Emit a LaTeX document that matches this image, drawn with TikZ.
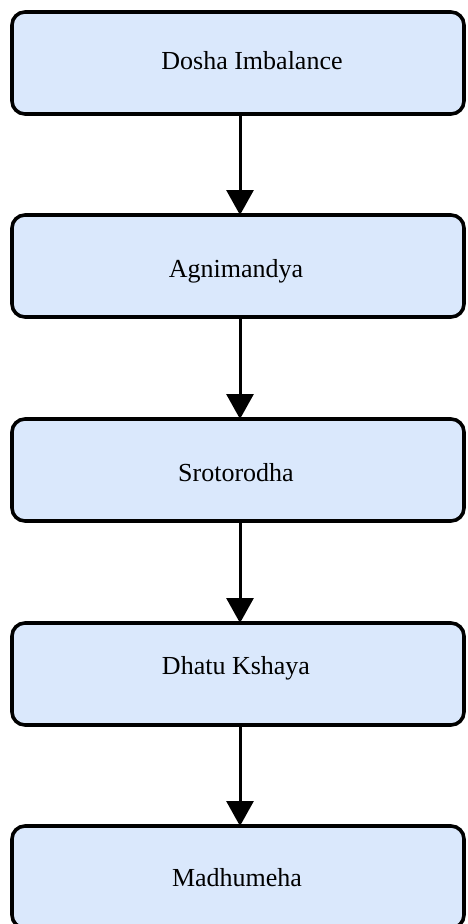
\documentclass[tikz,border=0pt]{standalone}
\usepackage{fontspec}
\setmainfont{Liberation Serif}
\usetikzlibrary{arrows.meta}
\begin{document}
\begin{tikzpicture}[x=1pt,y=-1pt,
  box/.style={draw=black, line width=3.6pt, fill=boxfill, rounded corners=13pt,
    minimum width=452pt, minimum height=102pt, outer sep=0pt, inner sep=0pt, anchor=north west},
  lbl/.style={font=\fontsize{26}{30}\selectfont, anchor=base, inner sep=0pt},
  flow/.style={line width=3pt, -{Triangle[width=27pt,length=25pt]}}]
\definecolor{boxfill}{HTML}{DAE8FC}
\useasboundingbox (0,0) rectangle (467,924);
\clip (0,0) rectangle (467,924);
\node[box] (b1) at (12,12) {};
\node[box] (b2) at (12,215) {};
\node[box] (b3) at (12,419) {};
\node[box] (b4) at (12,623) {};
\node[box] (b5) at (12,826) {};
\node[lbl] (t1) at (252,69) {Dosha Imbalance};
\node[lbl] (t2) at (236,277) {Agnimandya};
\node[lbl] (t3) at (236,481) {Srotorodha};
\node[lbl] (t4) at (236,674) {Dhatu Kshaya};
\node[lbl] (t5) at (237,886) {Madhumeha};
\coordinate (a1) at (240,114);
\coordinate (a2) at (240,317);
\coordinate (a3) at (240,521);
\coordinate (a4) at (240,725);
\draw[flow] (a1) -- (a1 |- b2.north);
\draw[flow] (a2) -- (a2 |- b3.north);
\draw[flow] (a3) -- (a3 |- b4.north);
\draw[flow] (a4) -- (a4 |- b5.north);
\end{tikzpicture}
\end{document}
